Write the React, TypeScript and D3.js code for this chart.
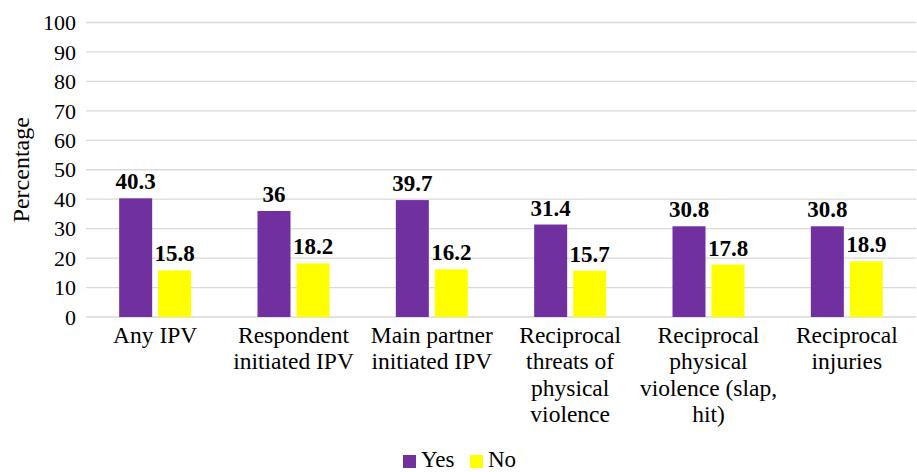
import React from "react";
import * as d3 from "d3";

const categories: string[][] = [
  ["Any IPV"],
  ["Respondent", "initiated IPV"],
  ["Main partner", "initiated IPV"],
  ["Reciprocal", "threats of", "physical", "violence"],
  ["Reciprocal", "physical", "violence (slap,", "hit)"],
  ["Reciprocal", "injuries"],
];
const yesValues = [40.3, 36, 39.7, 31.4, 30.8, 30.8];
const noValues = [15.8, 18.2, 16.2, 15.7, 17.8, 18.9];
const yTicks = [0, 10, 20, 30, 40, 50, 60, 70, 80, 90, 100];
const seriesNames = ["Yes", "No"];
const colors = ["#7030A0", "#FFFF00"];

const W = 917;
const H = 472;
const left = 86;
const right = 916;
const top = 22.5;
const bottom = 317;
const FONT = "'Liberation Serif', 'Times New Roman', serif";

export default function App() {
  const idx = categories.map((_, i) => String(i));
  const x = d3.scaleBand<string>().domain(idx).range([left, right]).paddingInner(0).paddingOuter(0);
  const y = d3.scaleLinear().domain([0, 100]).range([bottom, top]);
  const barW = 33;
  const gap = 6;
  const series = [yesValues, noValues];

  return (
    <svg width={W} height={H} style={{ position: "absolute", left: 0, top: 0, background: "#fff", fontFamily: FONT }}>
      {yTicks.map((t) => (
        <g key={t}>
          <line x1={left} x2={right} y1={y(t)} y2={y(t)} stroke="#d9d9d9" strokeWidth={1.3} />
          <text x={76} y={y(t)} dy="0.35em" textAnchor="end" fontSize={22} fill="#000">
            {t}
          </text>
        </g>
      ))}
      <text
        transform={`translate(29,${(top + bottom) / 2}) rotate(-90)`}
        textAnchor="middle"
        fontSize={24}
        fill="#000"
      >
        Percentage
      </text>
      {idx.map((k, i) => {
        const c = (x(k) as number) + x.bandwidth() / 2;
        const groupW = barW * 2 + gap;
        return (
          <g key={k}>
            {series.map((vals, s) => {
              const bx = c - groupW / 2 + s * (barW + gap);
              const v = vals[i];
              return (
                <g key={s}>
                  <rect x={bx} y={y(v)} width={barW} height={y(0) - y(v)} fill={colors[s]} />
                  <text
                    x={bx + barW / 2}
                    y={y(v) - 9}
                    textAnchor="middle"
                    fontSize={23}
                    fontWeight="bold"
                    fill="#000"
                  >
                    {v}
                  </text>
                </g>
              );
            })}
            {categories[i].map((line, j) => (
              <text key={j} x={c} y={343 + j * 26.4} textAnchor="middle" fontSize={23.5} fill="#000">
                {line}
              </text>
            ))}
          </g>
        );
      })}
      {seriesNames.map((n, s) => {
        const lx = s === 0 ? 403 : 470;
        return (
          <g key={n}>
            <rect x={lx} y={455} width={13} height={13} fill={colors[s]} />
            <text x={lx + 18} y={467} fontSize={23} fill="#000">
              {n}
            </text>
          </g>
        );
      })}
    </svg>
  );
}
